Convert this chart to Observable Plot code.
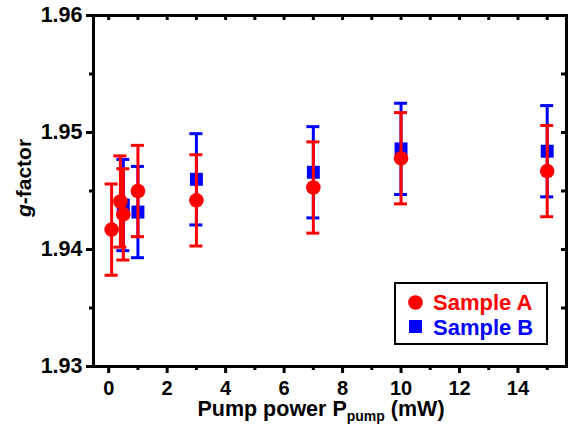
<!DOCTYPE html>
<html><head><meta charset="utf-8">
<script src="https://cdn.jsdelivr.net/npm/d3@7"></script>
<script src="https://cdn.jsdelivr.net/npm/@observablehq/plot@0.6"></script>
<style>
html,body{margin:0;padding:0;background:#fff;}
#chart{position:relative;width:568px;height:427px;}
</style></head><body><div id="chart"></div>
<script>
// Sample A (red circles)
const powerA = [0.1, 0.4, 0.5, 1, 3, 7, 10, 15];
const gA     = [1.9417, 1.9441, 1.9430, 1.9450, 1.9442, 1.9453, 1.9478, 1.9467];
const errA   = [0.0039, 0.0039, 0.0039, 0.0039, 0.0039, 0.0039, 0.0039, 0.0039];
// Sample B (blue squares)
const powerB = [0.5, 1, 3, 7, 10, 15];
const gB     = [1.9438, 1.9432, 1.9460, 1.9466, 1.9486, 1.9484];
const errB   = [0.0039, 0.0039, 0.0039, 0.0039, 0.0039, 0.0039];
// ticks
const xMajor = [0, 2, 4, 6, 8, 10, 12, 14];
const xMinor = [1, 3, 5, 7, 9, 11, 13, 15];
const xAll = [0,1,2,3,4,5,6,7,8,9,10,11,12,13,14,15];
const yMajor = [1.93, 1.94, 1.95, 1.96];
const yMinor = [1.935, 1.945, 1.955];
const yAll = [1.935, 1.94, 1.945, 1.95, 1.955];
const seriesNames = ["Sample A", "Sample B"];
const RED = "#ff0000", BLUE = "#0000ff";

const dataA = powerA.map((p, i) => ({p, g: gA[i], lo: gA[i] - errA[i], hi: gA[i] + errA[i]}));
const dataB = powerB.map((p, i) => ({p, g: gB[i], lo: gB[i] - errB[i], hi: gB[i] + errB[i]}));

const W = 568, H = 427, ML = 93, MR = 2, MT = 15, MB = 61;
const PW = W - ML - MR, PH = H - MT - MB;
const FONT = "'Liberation Sans', Arial, Helvetica, sans-serif";

function errorMarks(data, color) {
  return [
    Plot.ruleX(data, {x: "p", y1: "lo", y2: "hi", stroke: color, strokeWidth: 3}),
    Plot.ruleY(data, {y: "hi", x1: "p", x2: "p", insetLeft: -6.5, insetRight: -6.5, stroke: color, strokeWidth: 3}),
    Plot.ruleY(data, {y: "lo", x1: "p", x2: "p", insetLeft: -6.5, insetRight: -6.5, stroke: color, strokeWidth: 3})
  ];
}

const plot = Plot.plot({
  width: W, height: H,
  marginLeft: ML, marginRight: MR, marginTop: MT, marginBottom: MB,
  style: {fontFamily: FONT, fontWeight: "bold", color: "black", background: "white", overflow: "visible"},
  x: {domain: [-0.52, 15.66]},
  y: {domain: [1.93, 1.96]},
  marks: [
    // inward ticks on top and right
    Plot.tickX(xAll, {x: d => d, insetBottom: PH - 5, stroke: "black", strokeWidth: 3}),
    Plot.tickY(yAll, {y: d => d, insetLeft: PW - 5, stroke: "black", strokeWidth: 3}),
    // left axis
    Plot.axisY({anchor: "left", ticks: yMajor, tickSize: 7, tickPadding: 4, strokeWidth: 3, fontSize: 21.5, tickFormat: d3.format(".2f"), label: null}),
    Plot.axisY({anchor: "left", ticks: yMinor, tickSize: 4, strokeWidth: 3, tickFormat: () => "", label: null}),
    // bottom axis
    Plot.axisX({anchor: "bottom", ticks: xMajor, tickSize: 7, tickPadding: 7, strokeWidth: 3, fontSize: 20, tickFormat: d => String(d), label: null}),
    Plot.axisX({anchor: "bottom", ticks: xMinor, tickSize: 4, strokeWidth: 3, tickFormat: () => "", label: null}),
    // series B then A
    ...errorMarks(dataB, BLUE),
    Plot.dot(dataB, {x: "p", y: "g", r: 7.3, symbol: "square", fill: BLUE, stroke: null}),
    ...errorMarks(dataA, RED),
    Plot.dot(dataA, {x: "p", y: "g", r: 7.3, symbol: "circle", fill: RED, stroke: null}),
    Plot.frame({stroke: "black", strokeWidth: 3})
  ]
});

const svg = d3.select(plot);
// y-axis title
svg.append("text")
  .attr("transform", "translate(31,178) rotate(-90)")
  .attr("text-anchor", "middle")
  .attr("font-size", 21).attr("font-weight", "bold").attr("font-family", FONT)
  .attr("fill", "black")
  .call(t => { t.append("tspan").attr("font-style", "italic").text("g"); t.append("tspan").text("-factor"); });
// x-axis title
const xt = svg.append("text")
  .attr("x", 321).attr("y", 416)
  .attr("text-anchor", "middle")
  .attr("font-size", 21.5).attr("font-weight", "bold").attr("font-family", FONT)
  .attr("fill", "black");
xt.append("tspan").text("Pump power P");
xt.append("tspan").attr("font-size", 14).attr("dy", 5).text("pump");
xt.append("tspan").attr("dy", -5).text(" (mW)");
// legend
const lg = svg.append("g").attr("font-family", FONT).attr("font-weight", "bold").attr("font-size", 22).attr("text-anchor", "start");
lg.append("rect").attr("x", 395).attr("y", 283).attr("width", 152).attr("height", 61)
  .attr("fill", "white").attr("stroke", "black").attr("stroke-width", 2);
lg.append("circle").attr("cx", 415.5).attr("cy", 302.5).attr("r", 7.3).attr("fill", RED);
lg.append("text").attr("x", 433).attr("y", 310).attr("text-anchor", "start").attr("fill", RED).text(seriesNames[0]);
lg.append("rect").attr("x", 409).attr("y", 320).attr("width", 13).attr("height", 13).attr("fill", BLUE);
lg.append("text").attr("x", 433).attr("y", 334.5).attr("text-anchor", "start").attr("fill", BLUE).text(seriesNames[1]);

document.getElementById("chart").appendChild(plot);
</script>
</body></html>
